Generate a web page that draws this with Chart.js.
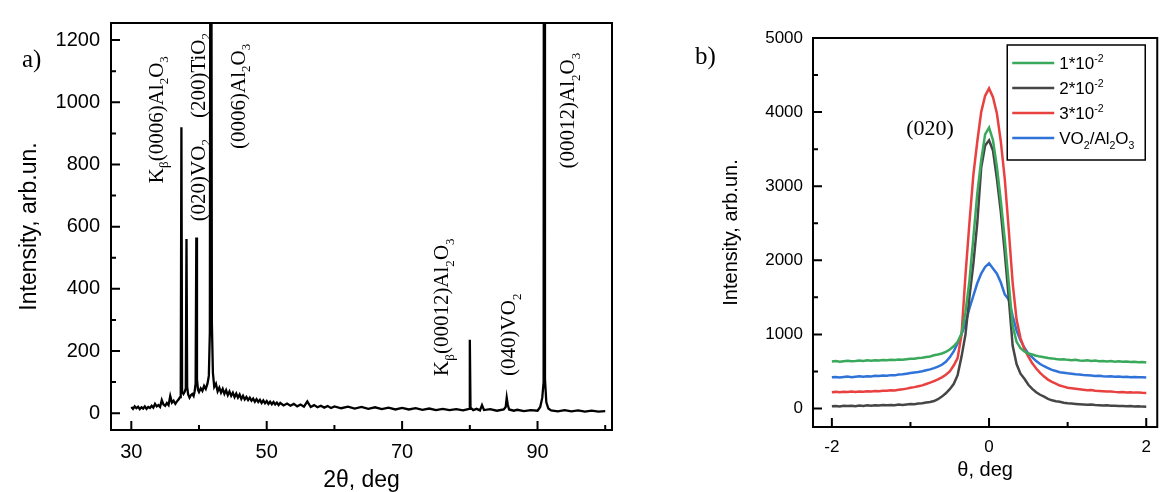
<!DOCTYPE html>
<html>
<head>
<meta charset="utf-8">
<script src="https://cdn.jsdelivr.net/npm/chart.js@4.4.1/dist/chart.umd.min.js"></script>
<style>
  html, body { margin: 0; padding: 0; background: #fff; overflow: hidden; }
  #page { position: relative; width: 1161px; height: 492px; }
  canvas { position: absolute; top: 0; }
  #xrdChart { left: 0; }
  #rockingChart { left: 660px; }
  .panel-tag { position: absolute; font: 25px/1 'Liberation Serif', serif; color: #000; }
</style>
</head>
<body>
<div id="page">
  <canvas id="xrdChart" width="640" height="492"></canvas>
  <canvas id="rockingChart" width="501" height="492"></canvas>
  <div class="panel-tag" style="left:22px; top:46px;">a)</div>
  <div class="panel-tag" style="left:695px; top:43px;">b)</div>
</div>
<script>
// panel a) : 2theta scan, [2theta, intensity]
const xrdScan = [
  [30.0, 20], [30.25, 14], [30.5, 22], [30.75, 16], [31.0, 21], [31.25, 13], [31.5, 19], [31.75, 15],
  [32.0, 22], [32.25, 14], [32.5, 20], [32.75, 17], [33.0, 24], [33.25, 18], [33.5, 30], [33.75, 22],
  [34.0, 26], [34.25, 20], [34.5, 42], [34.75, 28], [35.0, 24], [35.25, 33], [35.5, 26], [35.75, 55],
  [36.0, 34], [36.25, 40], [36.5, 30], [36.75, 38], [37.0, 45], [37.2, 52], [37.3, 60], [37.4, 920],
  [37.5, 70], [37.7, 62], [37.9, 70], [38.05, 80], [38.15, 560], [38.25, 85], [38.4, 60], [38.6, 50],
  [38.8, 58], [39.0, 62], [39.2, 55], [39.35, 70], [39.5, 95], [39.6, 565], [39.7, 110], [39.85, 75],
  [40.0, 68], [40.25, 80], [40.5, 72], [40.75, 88], [41.0, 78], [41.25, 95], [41.45, 120], [41.6, 260],
  [41.75, 3000], [41.9, 290], [42.05, 130], [42.25, 85], [42.5, 95], [42.75, 70], [43.0, 82], [43.25, 66],
  [43.5, 78], [43.75, 62], [44.0, 74], [44.25, 58], [44.5, 70], [44.75, 56], [45.0, 66], [45.25, 52],
  [45.5, 63], [45.75, 50], [46.0, 60], [46.25, 46], [46.5, 56], [46.75, 44], [47.0, 52], [47.25, 42],
  [47.5, 50], [47.75, 40], [48.0, 47], [48.25, 37], [48.5, 45], [48.75, 36], [49.0, 43], [49.25, 33],
  [49.5, 41], [49.75, 32], [50.0, 39], [50.25, 30], [50.5, 37], [50.75, 29], [51.0, 36], [51.25, 28],
  [51.5, 34], [51.75, 26], [52.0, 33], [52.5, 25], [53.0, 31], [53.5, 24], [54.0, 30], [54.5, 22],
  [55.0, 28], [55.5, 21], [56.0, 38], [56.5, 20], [57.0, 26], [57.5, 19], [58.0, 24], [58.5, 18],
  [59.0, 23], [59.5, 17], [60.0, 22], [61, 16], [62, 21], [63, 15], [64, 20], [65, 14], [66, 19],
  [67, 13], [68, 18], [69, 12], [70, 17], [71, 12], [72, 16], [73, 11], [74, 15], [75, 10], [76, 14],
  [77, 10], [78, 13], [79, 9], [79.9, 14], [80.0, 236], [80.1, 18], [80.5, 10], [81.0, 14], [81.5, 9],
  [81.8, 26], [82.1, 10], [83, 13], [84, 8], [85, 12], [85.3, 20], [85.45, 50], [85.6, 28], [85.8, 12],
  [86.5, 8], [87, 11], [88, 7], [89, 10], [90, 8], [90.4, 20], [90.7, 50], [90.9, 100], [91.0, 5000],
  [91.1, 110], [91.3, 35], [91.6, 15], [92, 9], [93, 6], [94, 10], [95, 6], [96, 9], [97, 5], [98, 8],
  [99, 5], [100, 7]
];
const xrdXTicks = [30, 50, 70, 90];
const xrdXMinor = [40, 60, 80, 100];
const xrdYTicks = [0, 200, 400, 600, 800, 1000, 1200];
const xrdYMinor = [100, 300, 500, 700, 900, 1100];
const xrdNotes = [
  { text: 'K_{β}(0006)Al_{2}O_{3}', x: 33.6, y: 740 },
  { text: '(020)VO_{2}    (200)TiO_{2}', x: 39.8, y: 617 },
  { text: '(0006)Al_{2}O_{3}', x: 45.7, y: 850 },
  { text: 'K_{β}(00012)Al_{2}O_{3}', x: 75.8, y: 120 },
  { text: '(040)VO_{2}', x: 85.7, y: 120 },
  { text: '(00012)Al_{2}O_{3}', x: 94.4, y: 787 }
];

// panel b) : rocking curves around (020)
const thetaDeg = [
  -2, -1.95, -1.9, -1.85, -1.8, -1.75, -1.7, -1.65, -1.6, -1.55, -1.5, -1.45, -1.4, -1.35, -1.3, -1.25,
  -1.2, -1.15, -1.1, -1.05, -1, -0.95, -0.9, -0.85, -0.8, -0.75, -0.7, -0.65, -0.6, -0.55, -0.5, -0.45,
  -0.4, -0.35, -0.3, -0.25, -0.2, -0.15, -0.1, -0.05, 0, 0.05, 0.1, 0.15, 0.2, 0.25, 0.3, 0.35, 0.4,
  0.45, 0.5, 0.55, 0.6, 0.65, 0.7, 0.75, 0.8, 0.85, 0.9, 0.95, 1, 1.05, 1.1, 1.15, 1.2, 1.25, 1.3, 1.35,
  1.4, 1.45, 1.5, 1.55, 1.6, 1.65, 1.7, 1.75, 1.8, 1.85, 1.9, 1.95, 2
];
const dose1 = [
  635, 640, 632, 638, 645, 636, 641, 648, 640, 650, 644, 652, 647, 655, 650, 658, 653, 662, 657, 665,
  670, 672, 680, 686, 695, 702, 718, 728, 742, 765,
  795, 840, 900, 1010, 1300, 1720, 2300, 2900, 3350, 3700,
  3790,
  3620, 3260, 2800, 2280, 1700, 1120, 900, 815, 770, 742,
  728, 712, 700, 692, 680, 676, 668, 662, 664, 656,
  652, 658, 648, 645, 650, 641, 646, 638, 642, 635, 640, 632, 637, 630, 634, 627, 631, 624, 628, 622
];
const dose2 = [
  30, 34, 28, 36, 32, 38, 31, 40, 35, 42, 37, 44, 40, 46, 42, 48, 45, 52, 48, 55,
  60, 58, 66, 72, 80, 88, 100, 125, 160, 205,
  260, 330, 450, 700, 1000, 1500, 1950, 2500, 3250, 3550,
  3620,
  3480, 3100, 2650, 2100, 1500, 850, 600, 470, 400, 320,
  265, 220, 185, 160, 130, 110, 98, 90, 78, 70,
  66, 62, 58, 55, 50, 52, 46, 44, 40, 42, 36, 38, 33, 35, 30, 32, 27, 30, 25, 24
];
const dose3 = [
  220, 224, 218, 226, 222, 228, 221, 230, 226, 233, 229, 236, 232, 240, 238, 246, 244, 254, 258, 268,
  280, 288, 300, 312, 330, 348, 370, 392, 420, 455,
  500, 580, 680, 1000, 1800, 2500, 3150, 3600, 4000, 4220,
  4320,
  4200, 3980, 3600, 3100, 2420, 1700, 1200, 950, 800, 700,
  610, 540, 480, 430, 390, 360, 335, 310, 295, 280,
  272, 265, 258, 252, 247, 250, 240, 236, 232, 228, 230, 224, 220, 222, 217, 219, 214, 216, 212, 210
];
const filmOnly = [
  420, 426, 418, 424, 430, 422, 428, 434, 427, 436, 432, 440, 437, 445, 441, 450, 447, 458, 462, 470,
  478, 485, 492, 502, 515, 528, 545, 565, 590, 630,
  690, 770, 880, 1000, 1150, 1350, 1520, 1690, 1820, 1910,
  1960,
  1890, 1820, 1700, 1540, 1470, 1250, 1050, 920, 820, 740,
  690, 640, 600, 570, 545, 520, 505, 490, 482, 475,
  470, 462, 458, 452, 449, 445, 440, 442, 436, 432, 434, 428, 430, 425, 427, 422, 424, 420, 422, 418
];
const rockLabels = ['1*10^{-2}', '2*10^{-2}', '3*10^{-2}', 'VO_{2}/Al_{2}O_{3}'];
const rockColors = ['#3aa95c', '#464646', '#e8413f', '#2f72d8'];
const rockXTicks = [-2, 0, 2];
const rockXMinor = [-1, 1];
const rockYTicks = [0, 1000, 2000, 3000, 4000, 5000];
const rockYMinor = [500, 1500, 2500, 3500, 4500];
const rockNotes = [{ text: '(020)', x: -0.71, y: 3784, flat: true }];

const SANS = "'Liberation Sans', Arial, sans-serif";
const SERIF = "'Liberation Serif', 'Times New Roman', serif";

// per-canvas extras, kept out of chart options so Chart.js does not proxy them
const extras = {
  xrdChart: { xTicks: xrdXTicks, xMinor: xrdXMinor, yTicks: xrdYTicks, yMinor: xrdYMinor, notes: xrdNotes, noteSize: 21, legend: false },
  rockingChart: { xTicks: rockXTicks, xMinor: rockXMinor, yTicks: rockYTicks, yMinor: rockYMinor, notes: rockNotes, noteSize: 22, legend: true },
};

// text with _{sub} and ^{sup} parts
function splitRich(text) {
  const parts = [];
  const re = /([_^])\{([^}]*)\}/g;
  let last = 0;
  let m;
  while ((m = re.exec(text))) {
    if (m.index > last) parts.push({ t: text.slice(last, m.index), k: '' });
    parts.push({ t: m[2], k: m[1] });
    last = re.lastIndex;
  }
  if (last < text.length) parts.push({ t: text.slice(last), k: '' });
  return parts;
}

function drawRich(ctx, text, x, y, size, family) {
  let cx = x;
  ctx.textAlign = 'left';
  ctx.textBaseline = 'alphabetic';
  splitRich(text).forEach((p) => {
    const s = p.k ? size * 0.62 : size;
    const dy = p.k === '_' ? size * 0.28 : p.k === '^' ? -size * 0.42 : 0;
    ctx.font = `${s}px ${family}`;
    ctx.fillText(p.t, cx, y + dy);
    cx += ctx.measureText(p.t).width;
  });
}

const framePlugin = {
  id: 'frame',
  afterDatasetsDraw(chart) {
    const opts = extras[chart.canvas.id];
    const { ctx, chartArea: a, scales } = chart;
    const { x, y } = scales;
    ctx.save();
    ctx.strokeStyle = '#000';
    ctx.lineWidth = 2;
    ctx.strokeRect(a.left, a.top, a.right - a.left, a.bottom - a.top);

    ctx.beginPath();
    opts.xTicks.forEach((v) => { const p = x.getPixelForValue(v); ctx.moveTo(p, a.bottom); ctx.lineTo(p, a.bottom - 9); });
    opts.xMinor.forEach((v) => { const p = x.getPixelForValue(v); ctx.moveTo(p, a.bottom); ctx.lineTo(p, a.bottom - 5); });
    opts.yTicks.forEach((v) => { const p = y.getPixelForValue(v); ctx.moveTo(a.left, p); ctx.lineTo(a.left + 9, p); });
    opts.yMinor.forEach((v) => { const p = y.getPixelForValue(v); ctx.moveTo(a.left, p); ctx.lineTo(a.left + 5, p); });
    ctx.stroke();

    ctx.fillStyle = '#000';
    opts.notes.forEach((n) => {
      const px = x.getPixelForValue(n.x);
      const py = y.getPixelForValue(n.y);
      ctx.save();
      ctx.translate(px, py);
      if (n.flat) {
        drawRich(ctx, n.text, -27, 7, opts.noteSize, SERIF);
      } else {
        ctx.rotate(-Math.PI / 2);
        drawRich(ctx, n.text, 0, opts.noteSize * 0.33, opts.noteSize, SERIF);
      }
      ctx.restore();
    });

    if (opts.legend) {
      const bx = a.right - 150;
      const by = a.top + 7;
      ctx.lineWidth = 1.5;
      ctx.strokeRect(bx, by, 138, 115);
      chart.data.datasets.forEach((ds, i) => {
        const ry = by + 18 + i * 25;
        ctx.strokeStyle = ds.borderColor;
        ctx.lineWidth = 2.5;
        ctx.beginPath();
        ctx.moveTo(bx + 5, ry);
        ctx.lineTo(bx + 47, ry);
        ctx.stroke();
        ctx.fillStyle = '#000';
        drawRich(ctx, ds.label, bx + 52, ry + 6, 17, SANS);
      });
    }
    ctx.restore();
  },
};

function fixedTicks(values) {
  return (scale) => { scale.ticks = values.map((v) => ({ value: v })); };
}

const xrdChart = new Chart(document.getElementById('xrdChart'), {
  type: 'line',
  data: {
    datasets: [{
      data: xrdScan.map(([t, v]) => ({ x: t, y: v })),
      borderColor: '#000',
      borderWidth: 2.3,
      pointRadius: 0,
      tension: 0,
    }],
  },
  options: {
    responsive: false,
    animation: false,
    layout: { padding: { top: 14, right: 28, left: 0, bottom: 0 } },
    plugins: {
      legend: { display: false },
      tooltip: { enabled: false },
    },
    scales: {
      x: {
        type: 'linear',
        min: 27,
        max: 101,
        afterBuildTicks: fixedTicks(xrdXTicks),
        afterFit: (s) => { s.height = 62; },
        grid: { display: false, drawTicks: false },
        border: { display: false },
        ticks: { color: '#000', padding: 10, maxRotation: 0, font: { family: SANS, size: 20 }, callback: (v) => String(v) },
        title: { display: true, text: '2θ, deg', color: '#000', padding: { top: 0, bottom: 0 }, font: { family: SANS, size: 23, lineHeight: 1 } },
      },
      y: {
        type: 'linear',
        min: -54,
        max: 1255,
        afterBuildTicks: fixedTicks(xrdYTicks),
        afterFit: (s) => { s.width = 111; },
        grid: { display: false, drawTicks: false },
        border: { display: false },
        ticks: { color: '#000', padding: 11, font: { family: SANS, size: 20 }, callback: (v) => String(v) },
        title: { display: true, text: 'Intensity, arb.un.', color: '#000', padding: { top: 18, bottom: 0 }, font: { family: SANS, size: 23, lineHeight: 1 } },
      },
    },
  },
  plugins: [framePlugin],
});

const rockSeries = [dose1, dose2, dose3, filmOnly];

const rockingChart = new Chart(document.getElementById('rockingChart'), {
  type: 'line',
  data: {
    datasets: rockSeries.map((values, i) => ({
      label: rockLabels[i],
      data: values.map((v, k) => ({ x: thetaDeg[k], y: v })),
      borderColor: rockColors[i],
      borderWidth: 2.5,
      pointRadius: 0,
      tension: 0,
    })),
  },
  options: {
    responsive: false,
    animation: false,
    layout: { padding: { top: 38, right: 1, left: 0, bottom: 0 } },
    plugins: {
      legend: { display: false },
      tooltip: { enabled: false },
    },
    scales: {
      x: {
        type: 'linear',
        min: -2.24,
        max: 2.14,
        afterBuildTicks: fixedTicks(rockXTicks),
        afterFit: (s) => { s.height = 65; },
        grid: { display: false, drawTicks: false },
        border: { display: false },
        ticks: { color: '#000', padding: 10, maxRotation: 0, font: { family: SANS, size: 17 }, callback: (v) => String(v) },
        title: { display: true, text: 'θ, deg', color: '#000', padding: { top: 0, bottom: 12 }, font: { family: SANS, size: 20, lineHeight: 1 } },
      },
      y: {
        type: 'linear',
        min: -250,
        max: 5000,
        afterBuildTicks: fixedTicks(rockYTicks),
        afterFit: (s) => { s.width = 153; },
        grid: { display: false, drawTicks: false },
        border: { display: false },
        ticks: { color: '#000', padding: 10, font: { family: SANS, size: 17 }, callback: (v) => String(v) },
        title: { display: true, text: 'Intensity, arb.un.', color: '#000', padding: { top: 61, bottom: 0 }, font: { family: SANS, size: 20, lineHeight: 1 } },
      },
    },
  },
  plugins: [framePlugin],
});
</script>
</body>
</html>
